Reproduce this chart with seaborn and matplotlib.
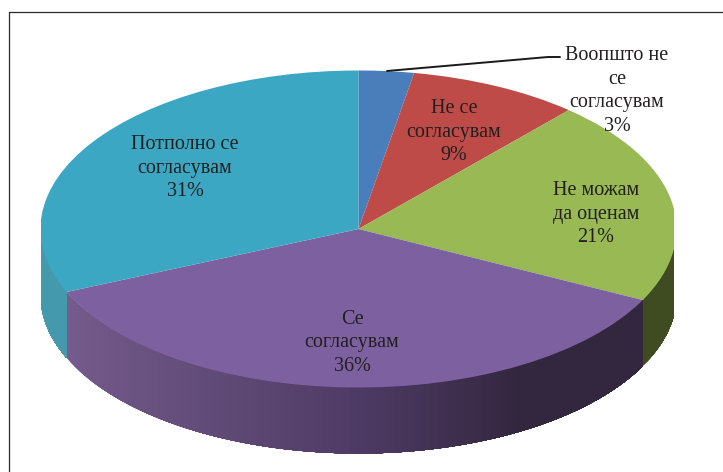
import numpy as np
import matplotlib
matplotlib.use("Agg")
import matplotlib.pyplot as plt
from matplotlib.lines import Line2D
import seaborn as sns

categories = ["Воопшто не\nсе\nсогласувам", "Не се\nсогласувам", "Не можам\nда оценам",
              "Се\nсогласувам", "Потполно се\nсогласувам"]
shares = [2.8, 8.7, 20.9, 36.1, 31.5]
percent_labels = ["3%", "9%", "21%", "36%", "31%"]
top_colors = ["#4a7ebb", "#be4b48", "#98b954", "#7d60a0", "#3ba7c2"]
wall_colors = [["#3a6291", "#3a6291"], ["#8a3432", "#8a3432"], ["#3f4c22", "#3f4c22"],
               ["#755b8e", "#654e7b", "#4f3c66", "#33263f", "#33263f"], ["#4499ad", "#4499ad"]]
label_pos = [(617, 91), (454, 132), (596, 214), (352, 343), (185, 168)]

W, H = 723, 472
cx, cy, rx, ry, depth = 358.5, 229, 318, 158.5, 66 / 158.5
left, right = 41, 674

sns.set_theme(style="white")
plt.rcParams["font.family"] = ["Liberation Serif", "DejaVu Sans"]

fig = plt.figure(figsize=(W / 100, H / 100), dpi=100)
ax = fig.add_axes([left / W, 0, (right - left) / W, 1])


def px(x, y):
    return (x - cx) / rx, (cy - y) / ry


# side wall first, only the front half of the pie shows it
# each strip runs to the end of the slice and the next one paints over it, so no seams
edges = np.cumsum([0] + shares) / sum(shares) * 2 * np.pi
for i in range(len(shares)):
    a = max(edges[i], np.pi / 2)
    b = min(edges[i + 1], 3 * np.pi / 2)
    if b <= a:
        continue
    n = 80
    pal = sns.blend_palette(wall_colors[i], n)
    ts = np.linspace(b, a, n + 1)
    for k in range(n):
        t = np.linspace(ts[k], a, 120)
        xs = np.sin(t)
        ys = np.cos(t)
        ax.fill(np.r_[xs, xs[::-1]], np.r_[ys, ys[::-1] - depth], color=pal[k], lw=0)

ax.pie(shares, colors=top_colors, startangle=90, counterclock=False, radius=1, frame=False,
       wedgeprops={"linewidth": 0, "clip_on": True})
ax.set_aspect("auto")
ax.set_xlim(px(left, 0)[0], px(right, 0)[0])
ax.set_ylim(px(0, H)[1], px(0, 0)[1])
ax.axis("off")

for name, pct, pos in zip(categories, percent_labels, label_pos):
    x, y = px(*pos)
    ax.text(x, y, name + "\n" + pct, ha="center", va="center", fontsize=14.5,
            color="#231f20", linespacing=1.31, zorder=6)

# leader line of the smallest slice
lx, ly = zip(px(387, 71), px(548, 57), px(560, 57))
ax.plot(lx, ly, color="#1a1a1a", lw=1.4, zorder=5, clip_on=False)

# frame runs off the right and bottom of the picture
fx, fy = 8.5 / W, 1 - 11.5 / H
fig.add_artist(Line2D([fx, fx], [0, fy], color="#2a2a2a", lw=0.9))
fig.add_artist(Line2D([fx, 1], [fy, fy], color="#2a2a2a", lw=0.9))

fig.savefig("out.png", dpi=100)
